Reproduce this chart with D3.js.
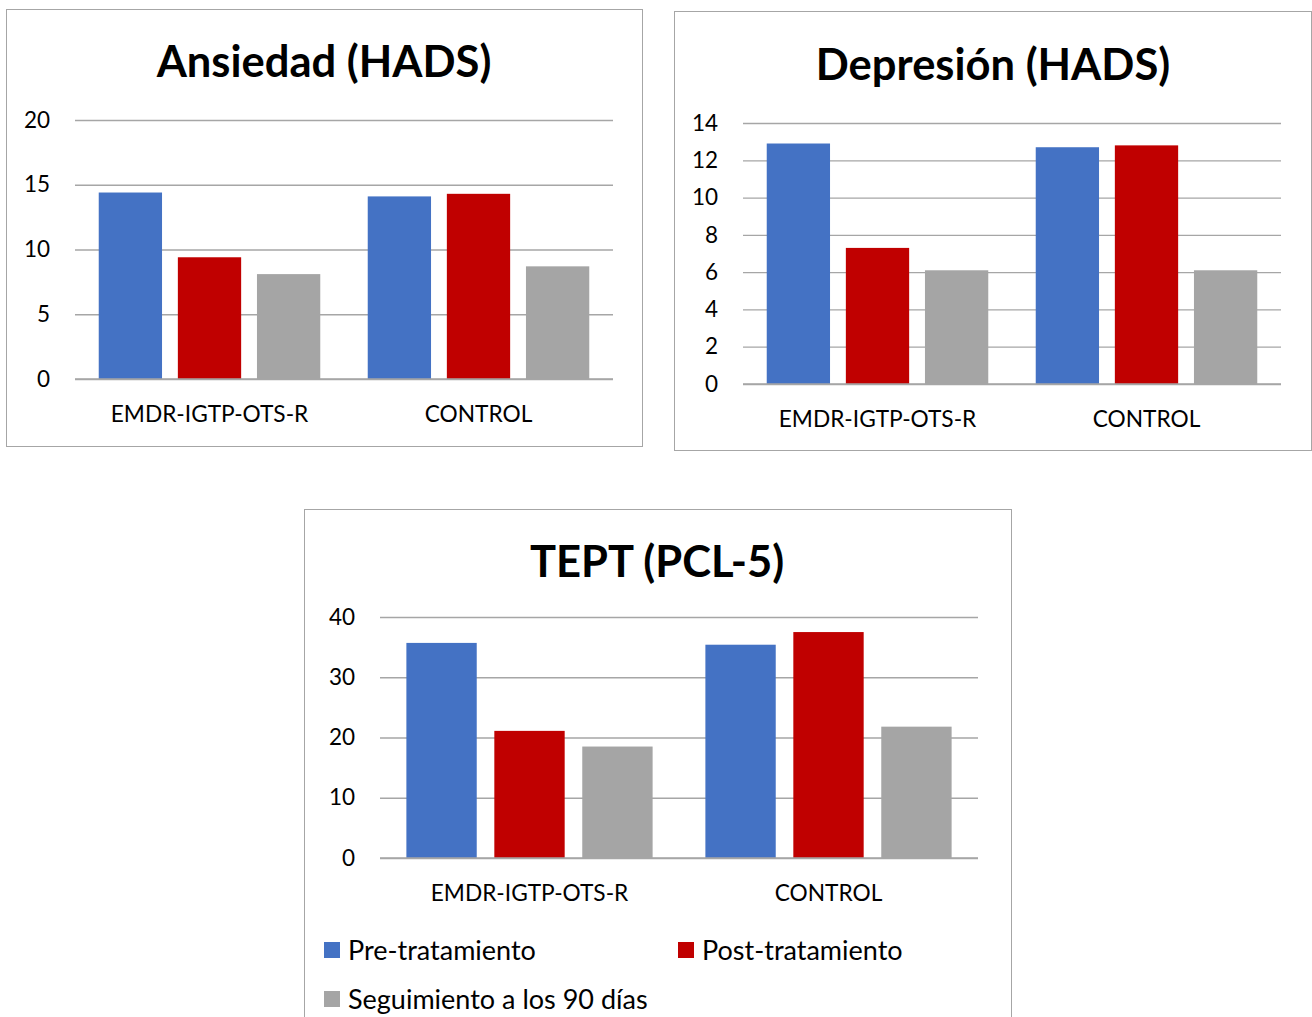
<!DOCTYPE html>
<html>
<head>
<meta charset="utf-8">
<script src="https://cdn.jsdelivr.net/npm/d3@7"></script>
<style>
  html, body { margin: 0; padding: 0; background: #fff; }
  svg { display: block; }
  text { font-family: Lato, "Open Sans", sans-serif; fill: #000; }
</style>
</head>
<body>
<svg id="chart" width="1312" height="1017"></svg>
<script>
// Group categories and the three measurement points
const groups = ["EMDR-IGTP-OTS-R", "CONTROL"];
const seriesNames = ["Pre-tratamiento", "Post-tratamiento", "Seguimiento a los 90 días"];
const seriesColors = ["#4472C4", "#C00000", "#A5A5A5"];

// Mean scores per group: [pre, post, follow-up]
const ansiedadEMDR = [14.4, 9.4, 8.1];
const ansiedadControl = [14.1, 14.3, 8.7];
const depresionEMDR = [12.9, 7.3, 6.1];
const depresionControl = [12.7, 12.8, 6.1];
const teptEMDR = [35.7, 21.1, 18.5];
const teptControl = [35.4, 37.5, 21.8];

// Axis tick values
const ansiedadTicks = [0, 5, 10, 15, 20];
const depresionTicks = [0, 2, 4, 6, 8, 10, 12, 14];
const teptTicks = [0, 10, 20, 30, 40];

const svg = d3.select("#chart");

function drawPanel(cfg) {
  const g = svg.append("g");

  // frame
  g.append("rect")
    .attr("x", cfg.box[0] + 0.5).attr("y", cfg.box[1] + 0.5)
    .attr("width", cfg.box[2]).attr("height", cfg.box[3])
    .attr("fill", "#fff").attr("stroke", "#a6a6a6").attr("stroke-width", 1);

  // title
  g.append("text")
    .attr("x", cfg.titleX).attr("y", cfg.titleY)
    .attr("text-anchor", "middle")
    .style("font-weight", "bold").style("font-size", "43.5px")
    .text(cfg.title);

  const [x0, x1, yTop, yBottom] = cfg.plot;
  const y = d3.scaleLinear().domain([0, cfg.ticks[cfg.ticks.length - 1]]).range([yBottom, yTop]);
  const xGroup = d3.scaleBand().domain(groups).range([x0, x1]).padding(0);
  const xSeries = d3.scaleBand().domain(d3.range(3)).range([0, xGroup.bandwidth()])
    .paddingInner(0.2).paddingOuter(0.3);

  // gridlines + y labels
  const yAxis = g.append("g")
    .attr("transform", `translate(${x0},0)`)
    .call(d3.axisLeft(y).tickValues(cfg.ticks).tickSize(-(x1 - x0)).tickPadding(25).tickFormat(d3.format("d")));
  yAxis.select(".domain").remove();
  yAxis.selectAll(".tick line").attr("stroke", "#a6a6a6").attr("stroke-width", 1.3);
  yAxis.selectAll(".tick text").style("font-size", "22.5px").attr("fill", "#000")
    .style("font-family", "Lato, 'Open Sans', sans-serif");

  // bars
  const rows = [cfg.values[0], cfg.values[1]];
  groups.forEach((grp, gi) => {
    g.selectAll(null)
      .data(rows[gi])
      .enter().append("rect")
      .attr("x", (d, i) => xGroup(grp) + xSeries(i))
      .attr("y", d => y(d))
      .attr("width", xSeries.bandwidth())
      .attr("height", d => y(0) - y(d))
      .attr("fill", (d, i) => seriesColors[i]);
  });

  // baseline drawn above the bars
  g.append("line")
    .attr("x1", x0).attr("x2", x1)
    .attr("y1", y(0)).attr("y2", y(0))
    .attr("stroke", "#a6a6a6").attr("stroke-width", 1.3);

  // category labels
  const xAxis = g.append("g")
    .attr("transform", `translate(0,${yBottom})`)
    .call(d3.axisBottom(xGroup).tickSize(0).tickPadding(27));
  xAxis.select(".domain").remove();
  xAxis.selectAll(".tick text").style("font-size", "22.7px").attr("fill", "#000")
    .style("font-family", "Lato, 'Open Sans', sans-serif");
}

drawPanel({
  box: [6, 9, 636, 437],
  title: "Ansiedad (HADS)", titleX: 324, titleY: 77,
  plot: [75, 613, 120, 379],
  ticks: ansiedadTicks,
  values: [ansiedadEMDR, ansiedadControl]
});

drawPanel({
  box: [674, 11, 637, 439],
  title: "Depresión (HADS)", titleX: 993, titleY: 80,
  plot: [743, 1281, 123, 384],
  ticks: depresionTicks,
  values: [depresionEMDR, depresionControl]
});

drawPanel({
  box: [304, 509, 707, 520],
  title: "TEPT (PCL-5)", titleX: 657, titleY: 577,
  plot: [380, 978, 617, 858],
  ticks: teptTicks,
  values: [teptEMDR, teptControl]
});

// legend for the bottom panel
const legendPos = [[324, 942], [678, 942], [324, 991]];
const legend = svg.append("g");
seriesNames.forEach((name, i) => {
  const [lx, ly] = legendPos[i];
  legend.append("rect")
    .attr("x", lx).attr("y", ly).attr("width", 16).attr("height", 16)
    .attr("fill", seriesColors[i]);
  legend.append("text")
    .attr("x", lx + 24).attr("y", ly + 18)
    .style("font-size", "27px")
    .text(name);
});
</script>
</body>
</html>
